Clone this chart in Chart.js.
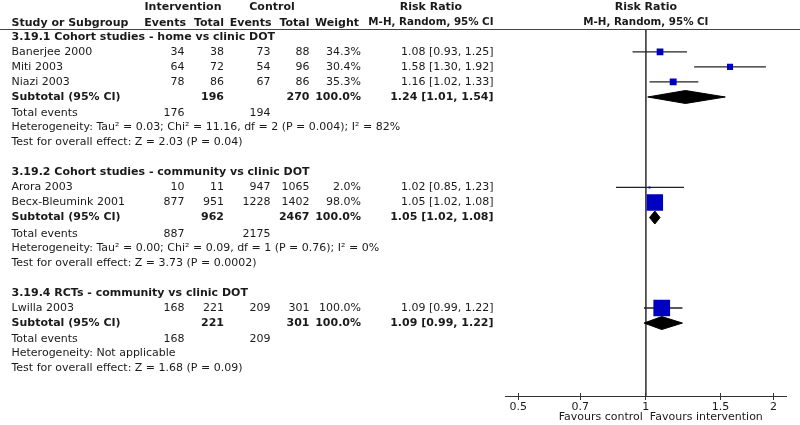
<!DOCTYPE html>
<html>
<head>
<meta charset="utf-8">
<script src="https://cdn.jsdelivr.net/npm/chart.js@4.4.0/dist/chart.umd.min.js"></script>
<style>
  html, body { margin: 0; padding: 0; background: #fff; }
</style>
</head>
<body>
<canvas id="myChart" width="800" height="425"></canvas>
<script>
// studies
var studies = ['Banerjee 2000', 'Miti 2003', 'Niazi 2003', 'Arora 2003', 'Becx-Bleumink 2001', 'Lwilla 2003'];
var studyGroup = [0, 0, 0, 1, 1, 2];
var intEvents = [34, 64, 78, 10, 877, 168];
var intTotal = [38, 72, 86, 11, 951, 221];
var ctlEvents = [73, 54, 67, 947, 1228, 209];
var ctlTotal = [88, 96, 86, 1065, 1402, 301];
var weights = [34.3, 30.4, 35.3, 2.0, 98.0, 100.0];
var rr = [1.08, 1.58, 1.16, 1.02, 1.05, 1.09];
var rrLow = [0.93, 1.30, 1.02, 0.85, 1.02, 0.99];
var rrHigh = [1.25, 1.92, 1.33, 1.23, 1.08, 1.22];

// subgroups
var groupNames = ['3.19.1 Cohort studies - home vs clinic DOT', '3.19.2 Cohort studies - community vs clinic DOT', '3.19.4 RCTs - community vs clinic DOT'];
var subIntTotal = [196, 962, 221];
var subCtlTotal = [270, 2467, 301];
var subWeight = [100.0, 100.0, 100.0];
var subRR = [1.24, 1.05, 1.09];
var subLow = [1.01, 1.02, 0.99];
var subHigh = [1.54, 1.08, 1.22];
var subIntEvents = [176, 887, 168];
var subCtlEvents = [194, 2175, 209];
var heterogeneity = [
    'Heterogeneity: Tau\u00b2 = 0.03; Chi\u00b2 = 11.16, df = 2 (P = 0.004); I\u00b2 = 82%',
    'Heterogeneity: Tau\u00b2 = 0.00; Chi\u00b2 = 0.09, df = 1 (P = 0.76); I\u00b2 = 0%',
    'Heterogeneity: Not applicable'
];
var overallEffect = [
    'Test for overall effect: Z = 2.03 (P = 0.04)',
    'Test for overall effect: Z = 3.73 (P = 0.0002)',
    'Test for overall effect: Z = 1.68 (P = 0.09)'
];

var xTicks = [0.5, 0.7, 1, 1.5, 2];

var X_MIN = 0.465, X_MAX = 2.15;
var Y_MIN = -0.478, Y_MAX = 23.84;
var FONT = '"DejaVu Sans", sans-serif';
var FS = 11;
var TEXT = '#1a1a1a';
var BLUE = '#0000c0';

// rows: group header, studies, subtotal, total events, heterogeneity, overall effect, blank
var studyRows = [], groupRows = [], subRows = [];
var row = 0;
groupNames.forEach(function (g, gi) {
    groupRows.push(row);
    row++;
    studyGroup.forEach(function (sg, si) {
        if (sg === gi) { studyRows[si] = row; row++; }
    });
    subRows.push(row);
    row += 5;
});

function ciText(v, lo, hi) {
    return v.toFixed(2) + ' [' + lo.toFixed(2) + ', ' + hi.toFixed(2) + ']';
}

var datasets = [];

// study squares, drawn on top
datasets.push({
    data: studies.map(function (s, i) { return { x: rr[i], y: studyRows[i] }; }),
    showLine: false,
    pointStyle: 'rect',
    pointRadius: weights.map(function (w) {
        return Math.max(16.7 * Math.pow(w / 100, 0.85), 2) / Math.SQRT2;
    }),
    pointBackgroundColor: BLUE,
    pointBorderWidth: 0
});

// subtotal diamonds
subRR.forEach(function (v, i) {
    var r = subRows[i];
    datasets.push({
        data: [
            { x: subLow[i], y: r },
            { x: v, y: r - 0.43 },
            { x: subHigh[i], y: r },
            { x: v, y: r + 0.43 },
            { x: subLow[i], y: r }
        ],
        showLine: true,
        fill: 'shape',
        backgroundColor: '#000',
        borderColor: '#000',
        borderWidth: 1,
        pointRadius: 0
    });
});

// confidence intervals
studies.forEach(function (s, i) {
    datasets.push({
        data: [{ x: rrLow[i], y: studyRows[i] }, { x: rrHigh[i], y: studyRows[i] }],
        showLine: true,
        borderColor: '#222',
        borderWidth: 1.3,
        pointRadius: 0
    });
});

// line of no effect
datasets.push({
    data: [{ x: 1, y: Y_MIN }, { x: 1, y: Y_MAX }],
    showLine: true,
    borderColor: '#444',
    borderWidth: 1,
    pointRadius: 0
});

var tablePlugin = {
    id: 'table',
    beforeDatasetsDraw: function (chart) {
        var c = chart.ctx, area = chart.chartArea;
        c.save();
        c.strokeStyle = '#444';
        c.lineWidth = 1;
        c.beginPath();
        c.moveTo(0, area.top);
        c.lineTo(chart.width, area.top);
        c.stroke();
        c.restore();
    },
    afterDraw: function (chart) {
        var c = chart.ctx, y = chart.scales.y, x = chart.scales.x, area = chart.chartArea;
        function txt(s, px, r, align, bold, size) {
            c.font = (bold ? 'bold ' : '') + (size || FS) + 'px ' + FONT;
            c.textAlign = align;
            c.fillText(s, px, y.getPixelForValue(r));
        }
        var cIE = 184.5, cIT = 224, cCE = 270.5, cCT = 309.5, cW = 361, cRR = 493.5;
        var one = x.getPixelForValue(1);
        var HS = 10.3;

        c.save();
        c.fillStyle = TEXT;
        c.textBaseline = 'middle';

        // headers
        c.font = 'bold ' + HS + 'px ' + FONT;
        var mhW = c.measureText('M-H, Random, 95% CI').width;
        txt('Intervention', 183, -1.97, 'center', true);
        txt('Control', 272, -1.97, 'center', true);
        txt('Risk Ratio', cRR - mhW / 2, -1.97, 'center', true);
        txt('Risk Ratio', one, -1.97, 'center', true);
        txt('Study or Subgroup', 11.5, -0.93, 'left', true);
        txt('Events', cIE + 1.5, -0.93, 'right', true);
        txt('Total', cIT, -0.93, 'right', true);
        txt('Events', cCE + 1, -0.93, 'right', true);
        txt('Total', cCT, -0.93, 'right', true);
        txt('Weight', cW - 2, -0.93, 'right', true);
        txt('M-H, Random, 95% CI', cRR, -0.93, 'right', true, HS);
        txt('M-H, Random, 95% CI', one, -0.93, 'center', true, HS);

        groupNames.forEach(function (g, gi) {
            txt(g, 11.5, groupRows[gi], 'left', true);
        });

        studies.forEach(function (s, i) {
            var r = studyRows[i];
            txt(s, 11.5, r, 'left', false);
            txt(String(intEvents[i]), cIE, r, 'right', false);
            txt(String(intTotal[i]), cIT, r, 'right', false);
            txt(String(ctlEvents[i]), cCE, r, 'right', false);
            txt(String(ctlTotal[i]), cCT, r, 'right', false);
            txt(weights[i].toFixed(1) + '%', cW, r, 'right', false);
            txt(ciText(rr[i], rrLow[i], rrHigh[i]), cRR, r, 'right', false);
        });

        subRows.forEach(function (r, gi) {
            txt('Subtotal (95% CI)', 11.5, r, 'left', true);
            txt(String(subIntTotal[gi]), cIT, r, 'right', true);
            txt(String(subCtlTotal[gi]), cCT, r, 'right', true);
            txt(subWeight[gi].toFixed(1) + '%', cW, r, 'right', true);
            txt(ciText(subRR[gi], subLow[gi], subHigh[gi]), cRR, r, 'right', true);
            txt('Total events', 11.5, r + 1.07, 'left', false);
            txt(String(subIntEvents[gi]), cIE, r + 1.07, 'right', false);
            txt(String(subCtlEvents[gi]), cCE, r + 1.07, 'right', false);
            txt(heterogeneity[gi], 11.5, r + 2, 'left', false);
            txt(overallEffect[gi], 11.5, r + 3, 'left', false);
        });

        // upper half of the axis tick marks
        c.strokeStyle = '#333';
        c.lineWidth = 1;
        xTicks.forEach(function (t) {
            var px = Math.round(x.getPixelForValue(t) - 0.5) + 0.5;
            c.beginPath();
            c.moveTo(px, area.bottom);
            c.lineTo(px, area.bottom - 3);
            c.stroke();
        });

        // favours labels
        c.font = FS + 'px ' + FONT;
        c.textAlign = 'right';
        c.fillText('Favours control', one - 3, 417.5);
        c.textAlign = 'left';
        c.fillText('Favours intervention', one + 4, 417.5);
        c.restore();
    }
};

var ctx = document.getElementById('myChart').getContext('2d');
var myChart = new Chart(ctx, {
    type: 'scatter',
    data: { datasets: datasets },
    options: {
        responsive: false,
        animation: false,
        events: [],
        layout: {
            autoPadding: false,
            padding: { left: 505, right: 13.3, top: 29.5, bottom: 9.8 }
        },
        plugins: {
            legend: { display: false },
            tooltip: { enabled: false }
        },
        scales: {
            x: {
                type: 'logarithmic',
                min: X_MIN,
                max: X_MAX,
                bounds: 'data',
                afterBuildTicks: function (s) {
                    s.ticks = xTicks.map(function (v) { return { value: v }; });
                },
                ticks: {
                    autoSkip: false,
                    maxRotation: 0,
                    padding: 1,
                    color: TEXT,
                    font: { family: FONT, size: FS },
                    callback: function (v) { return String(v); }
                },
                grid: { drawOnChartArea: false, drawTicks: true, tickLength: 4, color: '#333' },
                border: { display: true, color: '#333', width: 1 }
            },
            y: {
                type: 'linear',
                display: false,
                reverse: true,
                min: Y_MIN,
                max: Y_MAX
            }
        }
    },
    plugins: [tablePlugin]
});
</script>
</body>
</html>
